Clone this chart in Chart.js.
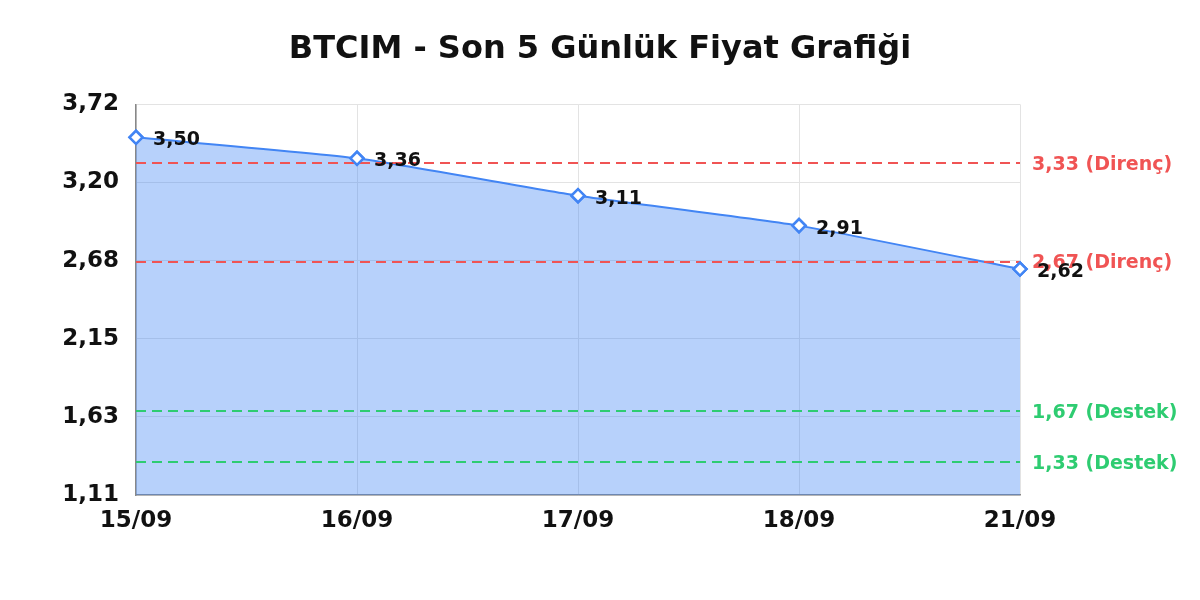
<!DOCTYPE html>
<html>
<head>
<meta charset="utf-8">
<script src="https://cdn.jsdelivr.net/npm/chart.js@4.4.1/dist/chart.umd.min.js"></script>
<style>
  html, body { margin: 0; padding: 0; background: #fff; }
  #wrap { width: 1200px; height: 600px; }
</style>
</head>
<body>
<div id="wrap"><canvas id="price-chart"></canvas></div>
<script>
    "use strict";

    // data
    var days = ["15/09", "16/09", "17/09", "18/09", "21/09"];
    var prices = [3.50, 3.36, 3.11, 2.91, 2.62];
    var yTicks = [1.11, 1.632, 2.154, 2.676, 3.198, 3.72];
    var resistance = [3.33, 2.67];
    var support = [1.67, 1.33];

    var fmt = function (v) { return v.toFixed(2).replace(".", ","); };

    // support / resistance lines and the text labels
    var levelLines = {
        id: "levelLines",
        afterDatasetsDraw: function (chart) {
            var ctx = chart.ctx, area = chart.chartArea, y = chart.scales.y;
            var meta = chart.getDatasetMeta(0);
            ctx.save();
            ctx.lineWidth = 2;
            ctx.setLineDash([10, 6]);
            var draw = function (vals, color) {
                vals.forEach(function (v) {
                    var py = Math.round(y.getPixelForValue(v));
                    ctx.strokeStyle = color;
                    ctx.beginPath();
                    ctx.moveTo(area.left, py);
                    ctx.lineTo(area.right, py);
                    ctx.stroke();
                });
            };
            draw(resistance, "#f05454");
            draw(support, "#2ecc71");
            ctx.restore();

            // markers back on top of the dashes
            meta.data.forEach(function (pt) { pt.draw(ctx, area); });

            ctx.save();
            ctx.textBaseline = "middle";
            ctx.textAlign = "left";
            ctx.font = "bold 19px 'DejaVu Sans'";
            resistance.forEach(function (v) {
                ctx.fillStyle = "#f05454";
                ctx.fillText(fmt(v) + " (Direnç)", area.right + 12, y.getPixelForValue(v) + 2);
            });
            support.forEach(function (v) {
                ctx.fillStyle = "#2ecc71";
                ctx.fillText(fmt(v) + " (Destek)", area.right + 12, y.getPixelForValue(v) + 2);
            });

            // point value labels
            ctx.fillStyle = "#111";
            meta.data.forEach(function (pt, i) {
                ctx.fillText(fmt(prices[i]), pt.x + 17, pt.y + 3);
            });
            ctx.restore();
        }
    };

    var ctx1 = document.getElementById("price-chart").getContext("2d");
    var myChart1 = new Chart(ctx1, {
        type: "line",
        data: {
            labels: days,
            datasets: [{
                label: "BTCIM",
                data: prices,
                borderColor: "#4285f4",
                borderWidth: 2,
                backgroundColor: "rgba(66, 133, 244, 0.38)",
                fill: "origin",
                tension: 0.15,
                pointStyle: "rectRot",
                pointRadius: 6.5,
                pointBorderWidth: 2.5,
                pointBackgroundColor: "#fff",
                pointBorderColor: "#4285f4"
            }]
        },
        options: {
            responsive: true,
            maintainAspectRatio: false,
            animation: false,
            layout: { padding: 0 },
            plugins: {
                legend: { display: false },
                tooltip: { enabled: false },
                title: {
                    display: true,
                    text: "BTCIM - Son 5 Günlük Fiyat Grafiği",
                    color: "#111",
                    font: { family: "'DejaVu Sans'", size: 32, weight: "bold" },
                    padding: { top: 30, bottom: 36 }
                }
            },
            scales: {
                x: {
                    offset: false,
                    grid: { color: "#e3e3e3", drawTicks: false },
                    border: { color: "#888", width: 1.5 },
                    ticks: {
                        color: "#111",
                        padding: 12,
                        maxRotation: 0,
                        font: { family: "'DejaVu Sans'", size: 23, weight: "bold" }
                    },
                    afterFit: function (s) { s.height = 105; }
                },
                y: {
                    min: 1.11,
                    max: 3.72,
                    grid: { color: "#e3e3e3", drawTicks: false },
                    border: { color: "#888", width: 1.5 },
                    afterBuildTicks: function (s) {
                        s.ticks = yTicks.map(function (v) { return { value: v }; });
                    },
                    ticks: {
                        color: "#111",
                        padding: 17,
                        font: { family: "'DejaVu Sans'", size: 23, weight: "bold" },
                        callback: function (v) { return fmt(v); }
                    },
                    afterFit: function (s) { s.width = 136; }
                },
                // empty right axis keeps room for the level labels
                side: {
                    position: "right",
                    display: true,
                    grid: { display: false },
                    border: { display: false },
                    ticks: { display: false },
                    afterFit: function (s) { s.width = 180; }
                }
            }
        },
        plugins: [levelLines]
    });
</script>
</body>
</html>
